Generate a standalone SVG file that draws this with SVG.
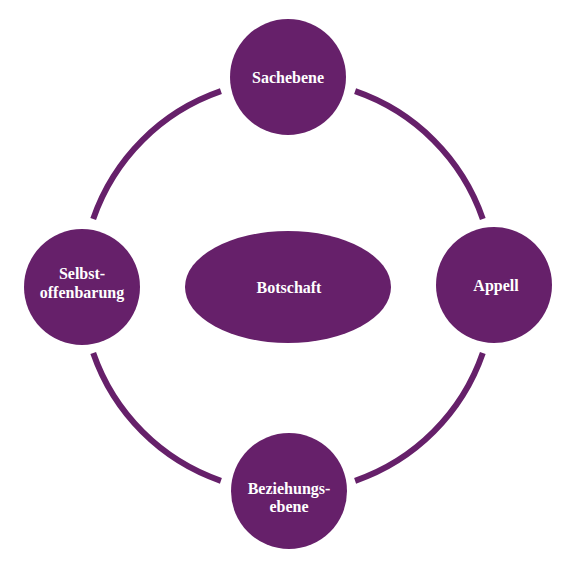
<svg xmlns="http://www.w3.org/2000/svg" width="576" height="576" viewBox="0 0 576 576">
<style>
.node{fill:#66206a}
.ring{fill:none;stroke:#66206a;stroke-width:6;stroke-linecap:butt}
.lbl{fill:#ffffff;font-family:"Liberation Serif","DejaVu Serif",serif;font-weight:bold;font-size:16px;text-anchor:middle}
</style>
<rect width="576" height="576" fill="#ffffff"/>
<g id="connectors">
<path class="ring" d="M 355.1 91.2 A 206 206 0 0 1 482.8 218.9"/>
<path class="ring" d="M 93.2 218.9 A 206 206 0 0 1 220.9 91.2"/>
<path class="ring" d="M 220.9 480.8 A 206 206 0 0 1 93.2 353.1"/>
<path class="ring" d="M 482.8 353.1 A 206 206 0 0 1 355.1 480.8"/>
</g>
<g id="sachebene">
<circle class="node" cx="288" cy="77" r="58"/>
<text class="lbl" x="288" y="83">Sachebene</text>
</g>
<g id="selbstoffenbarung">
<circle class="node" cx="82" cy="287" r="58"/>
<text class="lbl" x="82" y="279">Selbst-</text>
<text class="lbl" x="82" y="298">offenbarung</text>
</g>
<g id="appell">
<circle class="node" cx="494" cy="285" r="58"/>
<text class="lbl" x="496" y="291">Appell</text>
</g>
<g id="beziehungsebene">
<circle class="node" cx="289" cy="491" r="58"/>
<text class="lbl" x="289" y="494">Beziehungs-</text>
<text class="lbl" x="289" y="512">ebene</text>
</g>
<g id="botschaft">
<ellipse class="node" cx="288" cy="287" rx="103" ry="56"/>
<text class="lbl" x="289" y="293">Botschaft</text>
</g>
</svg>
